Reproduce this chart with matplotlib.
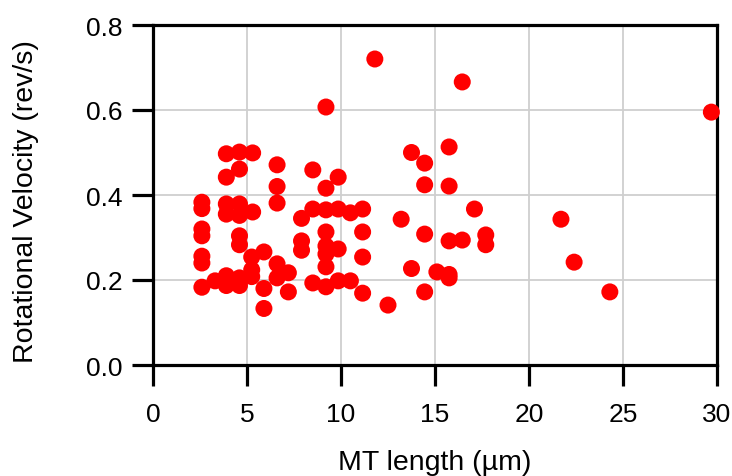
import matplotlib
matplotlib.use("Agg")
import matplotlib.pyplot as plt

plt.rcParams['font.family'] = ['Liberation Sans', 'DejaVu Sans']

mt_length = [2.6, 2.6, 2.6, 2.6, 2.6, 2.6, 2.6, 3.3,
             3.9, 3.9, 3.9, 3.9, 3.9, 3.9,
             4.6, 4.6, 4.6, 4.6, 4.6, 4.6, 4.6, 4.6,
             5.3, 5.3, 5.25, 5.25, 5.25,
             5.9, 5.9, 5.9,
             6.6, 6.6, 6.6, 6.6, 6.6,
             7.2, 7.2, 7.9, 7.9, 7.9,
             8.5, 8.5, 8.5,
             9.2, 9.2, 9.2, 9.2, 9.2, 9.2, 9.2, 9.2,
             9.85, 9.85, 9.85, 9.85,
             10.5, 10.5,
             11.15, 11.15, 11.15, 11.15,
             11.8, 12.5, 13.2, 13.75, 13.75,
             14.45, 14.45, 14.45, 14.45, 15.1,
             15.75, 15.75, 15.75, 15.75, 15.75,
             16.45, 16.45, 17.1, 17.7, 17.7,
             21.7, 22.4, 24.3, 29.7]

rot_velocity = [0.383, 0.368, 0.320, 0.304, 0.256, 0.240, 0.183, 0.198,
                0.497, 0.442, 0.379, 0.355, 0.210, 0.187,
                0.501, 0.461, 0.379, 0.352, 0.304, 0.283, 0.205, 0.187,
                0.499, 0.360, 0.254, 0.224, 0.208,
                0.266, 0.180, 0.133,
                0.471, 0.420, 0.381, 0.238, 0.205,
                0.217, 0.172, 0.345, 0.292, 0.270,
                0.459, 0.367, 0.193,
                0.607, 0.416, 0.365, 0.313, 0.280, 0.261, 0.231, 0.184,
                0.442, 0.367, 0.273, 0.198,
                0.358, 0.198,
                0.367, 0.313, 0.254, 0.169,
                0.720, 0.141, 0.343, 0.500, 0.227,
                0.475, 0.424, 0.308, 0.172, 0.219,
                0.513, 0.421, 0.292, 0.213, 0.205,
                0.666, 0.294, 0.367, 0.306, 0.283,
                0.343, 0.242, 0.172, 0.595]

x_ticks = [0, 5, 10, 15, 20, 25, 30]
y_ticks = [0.0, 0.2, 0.4, 0.6, 0.8]
y_tick_labels = ['0.0', '0.2', '0.4', '0.6', '0.8']

fig = plt.figure(figsize=(7.32, 4.77), dpi=100)
ax = fig.add_axes([153/732, 1 - 366/477, (717-153)/732, (366-26)/477])

ax.scatter(mt_length, rot_velocity, s=150, color='#ff0000', edgecolors='none',
           zorder=3, clip_on=False)

ax.set_xlim(0, 30)
ax.set_ylim(0, 0.8)
ax.set_xticks(x_ticks)
ax.set_xticklabels([str(t) for t in x_ticks])
ax.set_yticks(y_ticks)
ax.set_yticklabels(y_tick_labels)

ax.grid(True, color='#cfcfcf', linewidth=1.3, zorder=0)
ax.set_axisbelow(True)

for sp in ax.spines.values():
    sp.set_linewidth(2.3)
    sp.set_color('black')

ax.tick_params(axis='both', direction='out', length=15, width=2.3,
               labelsize=19, color='black', labelcolor='black')
ax.tick_params(axis='x', pad=12)
ax.tick_params(axis='y', pad=7)

ax.set_xlabel('MT length (µm)', fontsize=20.5)
ax.set_ylabel('Rotational Velocity (rev/s)', fontsize=20.5)
ax.xaxis.set_label_coords(0.5, -0.248)
ax.yaxis.set_label_coords(-0.202, 0.485)

fig.savefig('out.png', dpi=100)
